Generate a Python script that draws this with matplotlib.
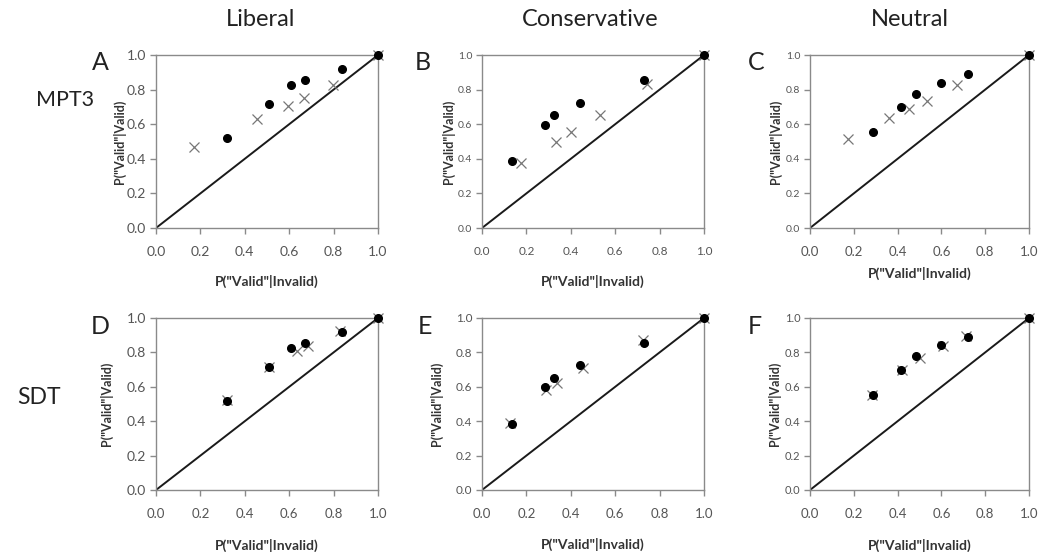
import matplotlib
matplotlib.use("Agg")
import matplotlib.pyplot as plt

plt.rcParams['font.family'] = ['Lato', 'DejaVu Sans']

columns = ["Liberal", "Conservative", "Neutral"]
rows = ["MPT3", "SDT"]
letters = ["A", "B", "C", "D", "E", "F"]
ticks = [0.0, 0.2, 0.4, 0.6, 0.8, 1.0]

# observed data (dots), same in both rows
obs_far = [
    [0.321, 0.508, 0.608, 0.673, 0.837, 1.0],
    [0.135, 0.282, 0.325, 0.442, 0.730, 1.0],
    [0.286, 0.416, 0.486, 0.597, 0.720, 1.0],
]
obs_hit = [
    [0.520, 0.714, 0.825, 0.856, 0.919, 1.0],
    [0.386, 0.598, 0.654, 0.724, 0.855, 1.0],
    [0.554, 0.700, 0.777, 0.841, 0.891, 1.0],
]

# model predictions (crosses)
mpt_far = [
    [0.170, 0.455, 0.593, 0.668, 0.798, 1.0],
    [0.174, 0.333, 0.400, 0.531, 0.742, 1.0],
    [0.175, 0.363, 0.451, 0.533, 0.672, 1.0],
]
mpt_hit = [
    [0.468, 0.630, 0.706, 0.750, 0.825, 1.0],
    [0.376, 0.500, 0.554, 0.653, 0.830, 1.0],
    [0.514, 0.634, 0.688, 0.736, 0.828, 1.0],
]
sdt_far = [
    [0.318, 0.509, 0.636, 0.685, 0.828, 1.0],
    [0.125, 0.289, 0.338, 0.454, 0.725, 1.0],
    [0.283, 0.419, 0.503, 0.608, 0.713, 1.0],
]
sdt_hit = [
    [0.522, 0.715, 0.809, 0.840, 0.927, 1.0],
    [0.392, 0.579, 0.621, 0.711, 0.872, 1.0],
    [0.550, 0.696, 0.766, 0.836, 0.897, 1.0],
]

W, H = 1040, 552
fig = plt.figure(figsize=(W / 100, H / 100), dpi=100)

col_left = [156, 482, 810]
col_w = [222, 222, 219]
row_top = [55, 318]
row_h = [173, 172]
ytick_size = [[10, 7.5, 7.5], [10, 8.5, 8]]
xtick_size = [[10, 8.5, 9.5], [9.5, 9.5, 9.5]]
ylab_x = [[119, 448, 775], [106, 436, 774]]
xlab_y = [[281, 281, 273], [545, 544, 545]]
letter_x = [[100, 423, 756], [100, 425, 755]]

grey = "#8a8a8a"
txt = "#555555"

for r in range(2):
    for c in range(3):
        l, t = col_left[c], row_top[r]
        w, h = col_w[c], row_h[r]
        ax = fig.add_axes([l / W, 1 - (t + h) / H, w / W, h / H])
        ax.plot([0, 1], [0, 1], color="#1a1a1a", lw=1.4, zorder=2)
        if r == 0:
            mf, mh = mpt_far[c], mpt_hit[c]
        else:
            mf, mh = sdt_far[c], sdt_hit[c]
        ax.plot(mf, mh, ls="none", marker="x", ms=6.5, mew=0.9,
                color="#777777", zorder=3, clip_on=False)
        ax.plot(obs_far[c], obs_hit[c], ls="none", marker="o", ms=5.5,
                color="black", zorder=4, clip_on=False)
        ax.set_xlim(0, 1)
        ax.set_ylim(0, 1)
        ax.set_xticks(ticks)
        ax.set_yticks(ticks)
        ax.set_xticklabels(["%.1f" % v for v in ticks])
        ax.set_yticklabels(["%.1f" % v for v in ticks])
        for s in ax.spines.values():
            s.set_color(grey)
            s.set_linewidth(1.0)
        ax.tick_params(axis="x", direction="out", length=4, width=1, color=grey,
                       labelsize=xtick_size[r][c], labelcolor=txt, pad=9)
        ax.tick_params(axis="y", direction="out", length=4, width=1, color=grey,
                       labelsize=ytick_size[r][c], labelcolor=txt, pad=3)
        fig.text(ylab_x[r][c] / W, 1 - (t + h / 2) / H, 'P("Valid"|Valid)',
                 rotation=90, ha="center", va="center", fontsize=9,
                 fontweight="bold", color="#333333")
        fig.text((l + w / 2) / W, 1 - xlab_y[r][c] / H, 'P("Valid"|Invalid)',
                 ha="center", va="center", fontsize=10,
                 fontweight="bold", color="#333333")
        fig.text(letter_x[r][c] / W, 1 - (t + 8) / H, letters[r * 3 + c],
                 ha="center", va="center", fontsize=18, color="#222222")

title_x = [261, 590, 910]
for c in range(3):
    fig.text(title_x[c] / W, 1 - 19 / H, columns[c], ha="center", va="center",
             fontsize=17, color="#222222")

fig.text(65 / W, 1 - 100 / H, rows[0], ha="center", va="center",
         fontsize=15.5, color="#222222")
fig.text(39 / W, 1 - 398 / H, rows[1], ha="center", va="center",
         fontsize=16.5, color="#222222")

fig.savefig("out.png", dpi=100)
